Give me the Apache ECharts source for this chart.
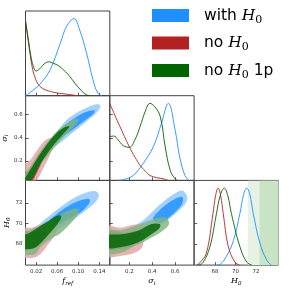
<!DOCTYPE html>
<html><head><meta charset="utf-8">
<script src="https://cdn.jsdelivr.net/npm/echarts@6/dist/echarts.min.js"></script>
<style>html,body{margin:0;padding:0;background:#fff}#c{width:291px;height:290px}</style>
</head><body><div id="c"></div>
<script>
// ---------- axis ranges & ticks ----------
const fRange = [0, 0.16];
const sRange = [0.03, 0.765];
const hRange = [65.95, 74.2];
const dRange = [0, 1.1];
const fTicks = [0.02, 0.06, 0.10, 0.14];
const sTicks = [0.2, 0.4, 0.6];
const hTicks = [68, 70, 72];
const seriesNames = ['with H0', 'no H0', 'no H0 1p'];

// ---------- 1D marginals ----------
const fBlue  = [[0,0],[0.016,0.08],[0.03,0.17],[0.047,0.34],[0.066,0.68],[0.078,0.9],[0.092,1.0],[0.103,0.85],[0.116,0.55],[0.128,0.21],[0.137,0.035],[0.145,0]];
const fRed   = [[0,0.97],[0.005,0.72],[0.0125,0.38],[0.018,0.24],[0.025,0.14],[0.035,0.085],[0.047,0.056],[0.06,0.035],[0.078,0.02],[0.09,0.008],[0.1,0]];
const fGreen = [[0,0.97],[0.005,0.75],[0.01,0.52],[0.015,0.38],[0.02,0.32],[0.027,0.35],[0.035,0.41],[0.044,0.44],[0.053,0.42],[0.0625,0.39],[0.073,0.33],[0.084,0.25],[0.094,0.16],[0.103,0.087],[0.11,0.04],[0.116,0.01],[0.125,0]];

const sBlue  = [[0.1,0],[0.15,0.01],[0.235,0.065],[0.32,0.22],[0.41,0.44],[0.48,0.74],[0.54,1.0],[0.6,0.65],[0.64,0.3],[0.685,0.065],[0.72,0]];
const sRed   = [[0.03,1.0],[0.07,0.86],[0.118,0.7],[0.2,0.436],[0.25,0.3],[0.294,0.196],[0.34,0.12],[0.38,0.065],[0.44,0.035],[0.5,0.02],[0.54,0]];
const sGreen = [[0.03,0.567],[0.065,0.576],[0.1,0.53],[0.15,0.45],[0.2,0.43],[0.25,0.53],[0.294,0.7],[0.34,0.9],[0.38,1.0],[0.42,0.96],[0.47,0.83],[0.513,0.436],[0.557,0.13],[0.6,0.02],[0.62,0]];

const hBlue  = [[68.2,0],[68.5,0.01],[69.1,0.11],[69.8,0.32],[70.43,0.67],[70.8,0.92],[71.1,1.0],[71.4,0.92],[71.74,0.67],[72.4,0.28],[73.06,0.065],[73.5,0]];
const hRed   = [[66.2,0],[66.5,0.03],[67.15,0.155],[67.8,0.67],[68.05,0.9],[68.3,1.0],[68.55,0.9],[68.8,0.67],[69.3,0.24],[69.94,0.04],[70.4,0]];
const hGreen = [[66.3,0],[66.8,0.03],[67.5,0.24],[68.14,0.67],[68.5,0.9],[68.9,1.0],[69.25,0.9],[69.6,0.67],[70.43,0.24],[71.1,0.04],[71.6,0]];
const hBands = [[71.2, 74.2], [72.35, 74.2]];

// ---------- 2D contours (outer = 95%, inner = 68%) ----------
// f_ref vs sigma
const fsBlueOuter  = [[0.042,0.32],[0.05,0.39],[0.062,0.47],[0.078,0.555],[0.098,0.62],[0.118,0.665],[0.134,0.69],[0.142,0.685],[0.141,0.655],[0.132,0.605],[0.115,0.54],[0.095,0.465],[0.075,0.39],[0.058,0.33],[0.047,0.295]];
const fsBlueInner  = [[0.056,0.40],[0.066,0.46],[0.085,0.545],[0.105,0.605],[0.122,0.635],[0.131,0.637],[0.13,0.615],[0.117,0.565],[0.095,0.49],[0.075,0.425],[0.061,0.385]];
const fsRedOuter   = [[-0.005,0.17],[0.005,0.19],[0.017,0.26],[0.035,0.37],[0.048,0.4],[0.053,0.39],[0.054,0.355],[0.048,0.27],[0.033,0.13],[0.02,0.03],[0.0,0.0],[-0.005,0.0]];
const fsRedInner   = [[-0.002,0.1],[0.005,0.11],[0.017,0.2],[0.032,0.29],[0.04,0.315],[0.038,0.28],[0.029,0.17],[0.017,0.055],[0.01,0.0],[-0.002,0.0]];
const fsGreenOuter = [[-0.005,0.06],[0.002,0.11],[0.011,0.165],[0.029,0.29],[0.054,0.43],[0.079,0.53],[0.095,0.565],[0.1,0.56],[0.096,0.52],[0.075,0.42],[0.05,0.29],[0.024,0.145],[0.008,0.03],[-0.005,0.0]];
const fsGreenInner = [[-0.002,0.04],[0.003,0.08],[0.014,0.16],[0.036,0.315],[0.06,0.445],[0.076,0.495],[0.083,0.498],[0.08,0.475],[0.068,0.415],[0.047,0.3],[0.026,0.155],[0.011,0.03],[-0.002,0.0]];
// f_ref vs H0
const fhBlueOuter  = [[0.012,69.3],[0.03,70.1],[0.048,70.85],[0.073,71.85],[0.098,72.65],[0.12,73.1],[0.133,73.15],[0.139,72.85],[0.136,72.3],[0.125,71.7],[0.105,70.9],[0.085,70.2],[0.065,69.55],[0.045,69.05],[0.025,68.85],[0.012,69.0]];
const fhBlueInner  = [[0.045,70.2],[0.06,70.95],[0.078,71.6],[0.098,72.15],[0.115,72.4],[0.122,72.3],[0.12,71.9],[0.108,71.25],[0.09,70.65],[0.07,70.1],[0.055,69.8]];
const fhRedOuter   = [[-0.005,69.5],[0.011,69.6],[0.035,69.95],[0.055,69.85],[0.06,69.5],[0.055,68.8],[0.042,67.9],[0.03,67.1],[0.017,66.7],[0.0,66.65],[-0.005,66.65]];
const fhRedInner   = [[-0.005,69.1],[0.015,69.2],[0.035,69.35],[0.042,69.1],[0.038,68.5],[0.025,67.8],[0.012,67.5],[-0.005,67.45]];
const fhGreenOuter = [[-0.005,69.3],[0.004,69.3],[0.029,69.8],[0.054,70.45],[0.079,71.2],[0.095,71.45],[0.101,71.3],[0.097,70.7],[0.08,69.7],[0.065,69.0],[0.048,68.5],[0.03,67.8],[0.018,67.0],[0.0,66.95],[-0.005,66.95]];
const fhGreenInner = [[-0.005,69.0],[0.002,68.95],[0.023,69.6],[0.048,70.4],[0.063,70.8],[0.068,70.7],[0.064,70.2],[0.055,69.6],[0.036,68.5],[0.018,67.65],[0.0,67.5],[-0.005,67.5]];
// sigma vs H0
const shBlueOuter  = [[0.24,69.6],[0.26,69.85],[0.335,70.45],[0.423,71.4],[0.54,72.5],[0.642,73.2],[0.675,73.15],[0.705,72.6],[0.698,72.1],[0.671,71.7],[0.598,70.9],[0.48,69.9],[0.364,69.25],[0.28,69.2]];
const shBlueInner  = [[0.41,70.6],[0.51,71.75],[0.598,72.4],[0.655,72.6],[0.668,72.45],[0.66,71.9],[0.583,70.95],[0.48,70.1],[0.42,70.2]];
const shRedOuter   = [[0.0,69.7],[0.13,69.6],[0.247,69.9],[0.31,69.8],[0.34,69.2],[0.32,68.0],[0.305,67.6],[0.247,67.15],[0.13,66.85],[0.0,66.85]];
const shRedInner   = [[0.0,69.2],[0.15,69.1],[0.27,69.3],[0.3,69.0],[0.28,68.3],[0.2,67.7],[0.1,67.5],[0.0,67.5]];
const shGreenOuter = [[0.0,69.3],[0.13,69.35],[0.247,69.75],[0.364,70.25],[0.48,70.6],[0.53,70.5],[0.545,69.9],[0.48,69.2],[0.364,68.45],[0.247,67.8],[0.13,67.15],[0.0,67.15]];
const shGreenInner = [[0.0,68.8],[0.13,68.95],[0.276,69.3],[0.393,69.95],[0.466,69.95],[0.465,69.6],[0.393,68.95],[0.276,68.15],[0.13,67.72],[0.0,67.65]];

// ---------- styling ----------
const COL = {
  blue:  {line:'#1e90ff', inner:'#1e90ff', outer:'#8fc7ff'},
  red:   {line:'#b22222', inner:'#c24444', outer:'#e2a3a3'},
  green: {line:'#006400', inner:'#006400', outer:'#80b380'}
};
const FILL_OP = 0.82;
const PX0 = 25.5, PY0 = 11, PW = 84.3, PH = 84.7;
const TXT = '#333';

const chart = echarts.init(document.getElementById('c'), null, {renderer:'canvas'});

// panels: [col,row]
const panels = [[0,0],[0,1],[1,1],[0,2],[1,2],[2,2]];
const grids = panels.map(([c,r]) => ({
  left: PX0 + c*PW, top: PY0 + r*PH, width: PW, height: PH,
  show: true, borderColor: '#444', borderWidth: 1, backgroundColor: 'transparent'
}));

const subName = (main, sub) => `{i|${main}}{s|${sub}}`;
const nameStyle = {
  fontFamily: 'DejaVu Serif', fontStyle: 'italic', fontSize: 8, color: '#000',
  rich: {
    i: {fontFamily:'DejaVu Serif', fontStyle:'italic', fontSize:8, color:'#000', lineHeight:10},
    s: {fontFamily:'DejaVu Serif', fontStyle:'italic', fontSize:5.5, color:'#000', verticalAlign:'bottom', lineHeight:5}
  }
};
function axis(gridIndex, range, ticks, fmt, showLabels, extra) {
  return Object.assign({
    type:'value', gridIndex, min:range[0], max:range[1],
    axisLine:{show:false}, splitLine:{show:false},
    axisTick:{show: ticks.length>0, inside:true, length:3, customValues:ticks, lineStyle:{color:'#333', width:0.8}},
    axisLabel:{show: showLabels, customValues:ticks, formatter:fmt, fontSize:5.5, color:TXT, margin:3, fontFamily:'DejaVu Sans'}
  }, extra || {});
}
const f2 = v => v.toFixed(2), f1 = v => v.toFixed(1), f0 = v => v.toFixed(0);

const xAxis = [
  axis(0, fRange, fTicks, f2, false),
  axis(1, fRange, fTicks, f2, false),
  axis(2, sRange, sTicks, f1, false),
  axis(3, fRange, fTicks, f2, true, {name: subName('f','ref'), nameLocation:'middle', nameGap:11, nameTextStyle:nameStyle}),
  axis(4, sRange, sTicks, f1, true, {name: subName('σ','i'), nameLocation:'middle', nameGap:11, nameTextStyle:nameStyle}),
  axis(5, hRange, hTicks, f0, true, {name: subName('H','0'), nameLocation:'middle', nameGap:11, nameTextStyle:nameStyle})
];
const yAxis = [
  axis(0, dRange, [], f1, false),
  axis(1, sRange, sTicks, f1, true, {name: subName('σ','i'), nameLocation:'middle', nameGap:13, nameRotate:90, nameTextStyle:nameStyle}),
  axis(2, dRange, [], f1, false),
  axis(3, hRange, hTicks, f0, true, {name: subName('H','0'), nameLocation:'middle', nameGap:13, nameRotate:90, nameTextStyle:nameStyle}),
  axis(4, hRange, hTicks, f0, false),
  axis(5, dRange, [], f1, false),
  axis(2, sRange, sTicks, f1, false, {position:'left'}),
  axis(5, hRange, hTicks, f0, false, {position:'left'})
];

function contour(name, pts, xi, yi, color) {
  return {
    type:'custom', name, xAxisIndex:xi, yAxisIndex:yi, clip:true, silent:true,
    data:[pts[0]],
    renderItem: (params, api) => ({
      type:'polygon',
      shape:{points: pts.map(p => api.coord(p)), smooth:0.35},
      style:{fill:color, opacity:FILL_OP, stroke:null}
    })
  };
}
function curve(name, pts, xi, yi, color) {
  return {type:'line', name, xAxisIndex:xi, yAxisIndex:yi, data:pts, smooth:0.4,
    showSymbol:false, symbol:'none', silent:true, lineStyle:{color, width:0.9}, itemStyle:{color}};
}

const series = [];
const add2D = (xi, yi, sets) => {
  const [bo,bi,ro,ri,go,gi] = sets;
  series.push(contour(seriesNames[0], bo, xi, yi, COL.blue.outer));
  series.push(contour(seriesNames[0], bi, xi, yi, COL.blue.inner));
  series.push(contour(seriesNames[1], ro, xi, yi, COL.red.outer));
  series.push(contour(seriesNames[1], ri, xi, yi, COL.red.inner));
  series.push(contour(seriesNames[2], go, xi, yi, COL.green.outer));
  series.push(contour(seriesNames[2], gi, xi, yi, COL.green.inner));
};
add2D(1, 1, [fsBlueOuter, fsBlueInner, fsRedOuter, fsRedInner, fsGreenOuter, fsGreenInner]);
add2D(3, 3, [fhBlueOuter, fhBlueInner, fhRedOuter, fhRedInner, fhGreenOuter, fhGreenInner]);
add2D(4, 4, [shBlueOuter, shBlueInner, shRedOuter, shRedInner, shGreenOuter, shGreenInner]);

// prior bands on H0 marginal
series.push({
  type:'custom', name:'band', xAxisIndex:5, yAxisIndex:5, clip:true, silent:true,
  data: hBands,
  renderItem: (params, api) => {
    const p0 = api.coord([api.value(0), dRange[1]]);
    const p1 = api.coord([api.value(1), dRange[0]]);
    return {type:'rect', shape:{x:p0[0], y:p0[1], width:p1[0]-p0[0], height:p1[1]-p0[1]},
      style:{fill: params.dataIndex === 0 ? '#e6f2e3' : '#c9e4c5'}};
  }
});

series.push(curve(seriesNames[0], fBlue, 0, 0, COL.blue.line));
series.push(curve(seriesNames[1], fRed, 0, 0, COL.red.line));
series.push(curve(seriesNames[2], fGreen, 0, 0, COL.green.line));
series.push(curve(seriesNames[0], sBlue, 2, 2, COL.blue.line));
series.push(curve(seriesNames[1], sRed, 2, 2, COL.red.line));
series.push(curve(seriesNames[2], sGreen, 2, 2, COL.green.line));
series.push(curve(seriesNames[0], hBlue, 5, 5, COL.blue.line));
series.push(curve(seriesNames[1], hRed, 5, 5, COL.red.line));
series.push(curve(seriesNames[2], hGreen, 5, 5, COL.green.line));

const legendText = {
  'with H0': 'with {h|H}{s|0}',
  'no H0': 'no {h|H}{s|0}',
  'no H0 1p': 'no {h|H}{s|0} 1p'
};
const legendColors = ['#1e90ff', '#b22222', '#006400'];

chart.setOption({
  animation:false,
  backgroundColor:'#fff',
  grid: grids,
  xAxis, yAxis,
  legend: {
    orient:'vertical', left:147, top:0.5, itemWidth:37, itemHeight:13, itemGap:7.5,
    icon:'rect', selectedMode:false,
    data: seriesNames.map((n,i) => ({name:n, itemStyle:{color:legendColors[i], borderWidth:0}})),
    formatter: n => legendText[n],
    textStyle: {
      fontFamily:'DejaVu Sans', fontSize:15.5, color:'#000', lineHeight:20, padding:[0,0,0,10],
      rich: {
        h:{fontFamily:'DejaVu Serif', fontStyle:'italic', fontSize:15.5, color:'#000', lineHeight:20},
        s:{fontFamily:'DejaVu Serif', fontSize:11, color:'#000', verticalAlign:'bottom', lineHeight:8}
      }
    }
  },
  series
});
</script></body></html>
